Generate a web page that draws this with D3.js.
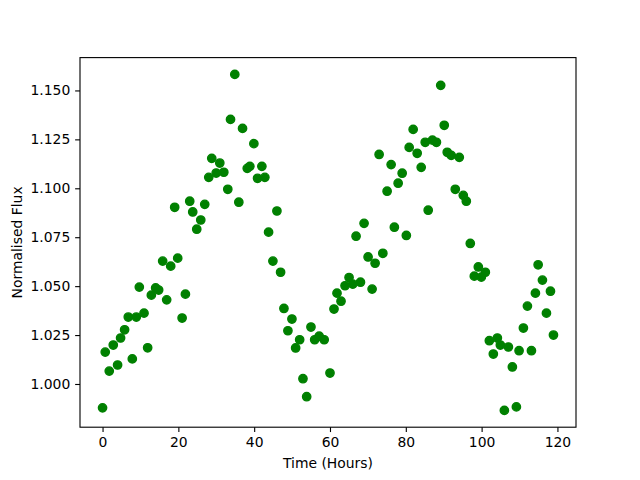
<!DOCTYPE html>
<html>
<head>
<meta charset="utf-8">
<style>
  html, body { margin: 0; padding: 0; background: #fff; overflow: hidden; }
  svg { display: block; }
</style>
<script src="https://cdn.jsdelivr.net/npm/d3@7"></script>
<script>
// time of each sample (hours)
const hours = [
  0, 0.71, 1.77, 2.83, 3.97, 4.76, 5.82, 6.79, 7.85, 8.91,
  9.70, 10.94, 11.90, 12.87, 14.01, 14.80, 15.86, 16.92, 17.98, 19.03,
  19.83, 20.99, 21.86, 23.00, 23.79, 24.85, 25.91, 26.96, 28.02, 28.81,
  29.98, 30.93, 31.99, 33.04, 33.76, 34.89, 35.95, 36.93, 38.17, 38.86,
  39.92, 40.89, 42.03, 42.82, 43.80, 44.94, 46.00, 46.97, 47.85, 48.90,
  49.96, 50.94, 52.00, 52.87, 53.85, 54.98, 55.96, 57.15, 58.47, 60.00,
  61.06, 61.85, 62.91, 63.97, 65.03, 66.01, 66.88, 68.04, 68.99, 70.05,
  71.11, 71.90, 72.96, 73.94, 75.07, 76.13, 76.98, 77.98, 79.04, 80.14,
  80.89, 81.94, 83.00, 84.06, 85.12, 85.91, 87.02, 88.08, 89.21, 90.14,
  90.93, 91.99, 93.05, 94.11, 95.16, 95.96, 97.01, 98.07, 99.13, 99.92,
  100.98, 102.04, 103.09, 104.15, 104.94, 106.00, 107.06, 108.11, 109.17, 109.88,
  111.02, 112.08, 113.14, 114.19, 114.91, 116.04, 117.10, 118.16, 118.95
];

// normalised flux for each sample
const flux = [
  0.9878, 1.0163, 1.0066, 1.0199, 1.0097, 1.0235, 1.0277, 1.0342, 1.0128, 1.0342,
  1.0495, 1.0362, 1.0185, 1.0454, 1.0491, 1.0480, 1.0628, 1.0430, 1.0602, 1.0903,
  1.0643, 1.0337, 1.0459, 1.0934, 1.0879, 1.0791, 1.0838, 1.0918, 1.1056, 1.1153,
  1.1078, 1.1129, 1.1082, 1.0995, 1.1352, 1.1582, 1.0929, 1.1306, 1.1102, 1.1112,
  1.1228, 1.1051, 1.1112, 1.1056, 1.0776, 1.0628, 1.0884, 1.0571, 1.0386, 1.0272,
  1.0332, 1.0184, 1.0226, 1.0027, 0.9935, 1.0291, 1.0226, 1.0244, 1.0226, 1.0056,
  1.0383, 1.0464, 1.0423, 1.0502, 1.0544, 1.0510, 1.0755, 1.0520, 1.0821, 1.0649,
  1.0485, 1.0617, 1.1173, 1.0668, 1.0985, 1.1121, 1.0801, 1.1026, 1.1077, 1.0759,
  1.1209, 1.1301, 1.1179, 1.1107, 1.1235, 1.0888, 1.1246, 1.1235, 1.1526, 1.1322,
  1.1184, 1.1168, 1.0995, 1.1158, 1.0964, 1.0934, 1.0718, 1.0551, 1.0598, 1.0546,
  1.0571, 1.0221, 1.0153, 1.0235, 1.0199, 0.9865, 1.0189, 1.0087, 0.9883, 1.0170,
  1.0286, 1.0398, 1.0170, 1.0464, 1.0609, 1.0531, 1.0362, 1.0474, 1.0250
];

const xTicks = [0, 20, 40, 60, 80, 100, 120];
const yTicks = [1.000, 1.025, 1.050, 1.075, 1.100, 1.125, 1.150];

const drawChart = () => {
  const width = 640;
  const height = 480;
  const margin = { top: 57.6, right: 64, bottom: 52.8, left: 80 };
  const innerWidth = width - margin.left - margin.right;
  const innerHeight = height - margin.top - margin.bottom;
  const font = "DejaVu Sans, sans-serif";
  const fontSize = 13.9;

  const data = hours.map((h, i) => ({ t: h, f: flux[i] }));

  // matplotlib style 5% padding
  const pad = (ext) => {
    const m = (ext[1] - ext[0]) * 0.05;
    return [ext[0] - m, ext[1] + m];
  };

  const x = d3.scaleLinear().domain(pad(d3.extent(hours))).range([0, innerWidth]);
  const y = d3.scaleLinear().domain(pad(d3.extent(flux))).range([innerHeight, 0]);

  const svg = d3.select("body")
    .append("svg")
    .attr("width", width)
    .attr("height", height)
    .attr("viewBox", `0 0 ${width} ${height}`);
  const g = svg.append("g").attr("transform", `translate(${margin.left},${margin.top})`);

  // points
  g.append("g")
    .selectAll("circle")
    .data(data)
    .enter()
    .append("circle")
    .attr("cx", (d) => x(d.t))
    .attr("cy", (d) => y(d.f))
    .attr("r", 4.17)
    .attr("fill", "#008000")
    .attr("stroke", "#008000")
    .attr("stroke-width", 1.39);

  // axes
  const tickLen = 4.86;
  const xAxis = d3.axisBottom(x).tickValues(xTicks).tickSize(tickLen).tickPadding(4.86).tickFormat(d3.format("d"));
  const yAxis = d3.axisLeft(y).tickValues(yTicks).tickSize(tickLen).tickPadding(4.86).tickFormat(d3.format(".3f"));

  const xg = g.append("g").attr("transform", `translate(0,${innerHeight})`).call(xAxis);
  const yg = g.append("g").call(yAxis);

  [xg, yg].forEach((ax) => {
    ax.attr("font-size", fontSize).attr("font-family", font);
    ax.select(".domain").remove();
    ax.selectAll(".tick line").attr("stroke", "#000").attr("stroke-width", 1.11);
    ax.selectAll(".tick text").attr("fill", "#000");
  });

  // frame
  g.append("rect")
    .attr("width", innerWidth)
    .attr("height", innerHeight)
    .attr("fill", "none")
    .attr("stroke", "#000")
    .attr("stroke-width", 1.11);

  // labels
  svg.append("text")
    .attr("x", margin.left + innerWidth / 2)
    .attr("y", 468)
    .attr("text-anchor", "middle")
    .attr("font-size", fontSize)
    .attr("font-family", font)
    .text("Time (Hours)");

  svg.append("text")
    .attr("transform", `translate(22,${margin.top + innerHeight / 2}) rotate(-90)`)
    .attr("text-anchor", "middle")
    .attr("font-size", fontSize)
    .attr("font-family", font)
    .text("Normalised Flux");
};

document.addEventListener("DOMContentLoaded", drawChart);
</script>
</head>
<body></body>
</html>
